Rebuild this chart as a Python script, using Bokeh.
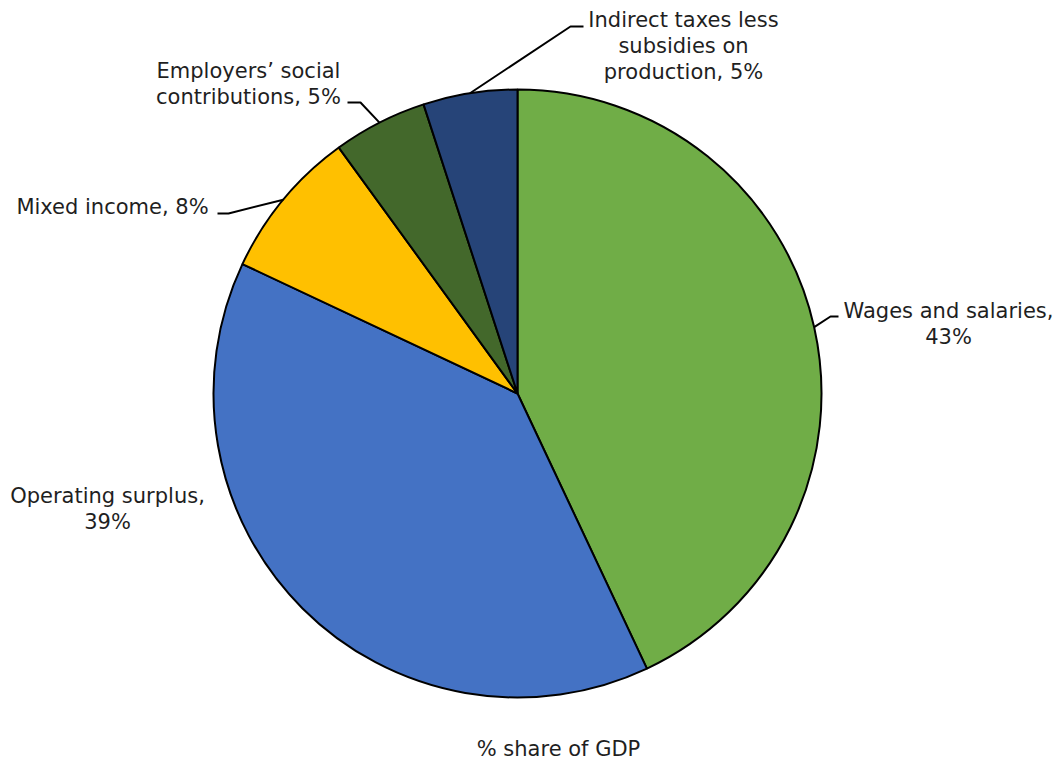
import numpy as np
from bokeh.plotting import figure
from bokeh.models import Range1d, ColumnDataSource
from bokeh.core.properties import value
from bokeh.embed import file_html
from bokeh.resources import INLINE

# ---- data ----
categories = ["Wages and salaries", "Operating surplus", "Mixed income",
              "Employers’ social contributions",
              "Indirect taxes less subsidies on production"]
shares = [43, 39, 8, 5, 5]
colors = ["#70AD47", "#4472C4", "#FFC000", "#43682B", "#264478"]
title_text = "% share of GDP"

# ---- layout ----
W, H = 1060, 761
CX, CY, R = 517, 393, 304            # pie centre / radius in image pixels
FONT = value("DejaVu Sans")
FS = "21px"
TXT_COLOR = "#1f1f1f"

# words per line for each label
wrap = [[3, 1], [2, 1], [3], [2, 2], [3, 2, 2]]
# centre x and first-line centre y of each label (image px)
label_pos = [(948, 310), (107, 495), (112, 206), (248, 70), (683, 19)]
LINE_H = 26
# leader line elbow and end points (image px); None = no leader
leaders = [((830, 316), (838, 316)), None, ((228, 213), (217, 213)),
           ((360, 102), (347, 102)), ((570, 26), (583, 26))]


def Y(y):
    return H - y


p = figure(width=W, height=H, x_range=Range1d(0, W), y_range=Range1d(0, H),
           output_backend="svg", toolbar_location=None,
           x_axis_location=None, y_axis_location=None, min_border=0,
           outline_line_color=None)
p.grid.visible = False
p.background_fill_color = "white"
p.border_fill_color = "white"

total = float(sum(shares))
cum = np.cumsum([0] + shares) / total
start = np.pi / 2 - 2 * np.pi * cum[1:]
end = np.pi / 2 - 2 * np.pi * cum[:-1]
src = ColumnDataSource(dict(start=start, end=end, color=colors,
                            cat=categories, share=shares))
p.wedge(x=CX, y=Y(CY), radius=R, radius_units="data", start_angle="start",
        end_angle="end", fill_color="color", line_color="black",
        line_width=2, source=src)

# leader lines
mid = np.pi / 2 - 2 * np.pi * (cum[:-1] + cum[1:]) / 2
xs, ys = [], []
for i, ld in enumerate(leaders):
    if ld is None:
        continue
    px = CX + R * np.cos(mid[i])
    py = Y(CY) + R * np.sin(mid[i])
    (ex, ey), (fx, fy) = ld
    xs.append([px, ex, fx])
    ys.append([py, Y(ey), Y(fy)])
p.multi_line(xs=xs, ys=ys, line_color="black", line_width=2)

# labels
tx, ty, tt = [], [], []
for i, (cat, sh) in enumerate(zip(categories, shares)):
    words = f"{cat}, {sh}%".split(" ")
    k = 0
    x0, y0 = label_pos[i]
    for j, n in enumerate(wrap[i]):
        tt.append(" ".join(words[k:k + n]))
        k += n
        tx.append(x0)
        ty.append(Y(y0 + j * LINE_H))
p.text(x=tx, y=ty, text=tt, text_align="center", text_baseline="middle",
       text_font=FONT, text_font_size=FS, text_color=TXT_COLOR)

p.text(x=[558], y=[Y(748)], text=[title_text], text_align="center",
       text_baseline="middle", text_font=FONT, text_font_size=FS,
       text_color=TXT_COLOR)

open("out.html", "w").write(file_html(p, INLINE))
